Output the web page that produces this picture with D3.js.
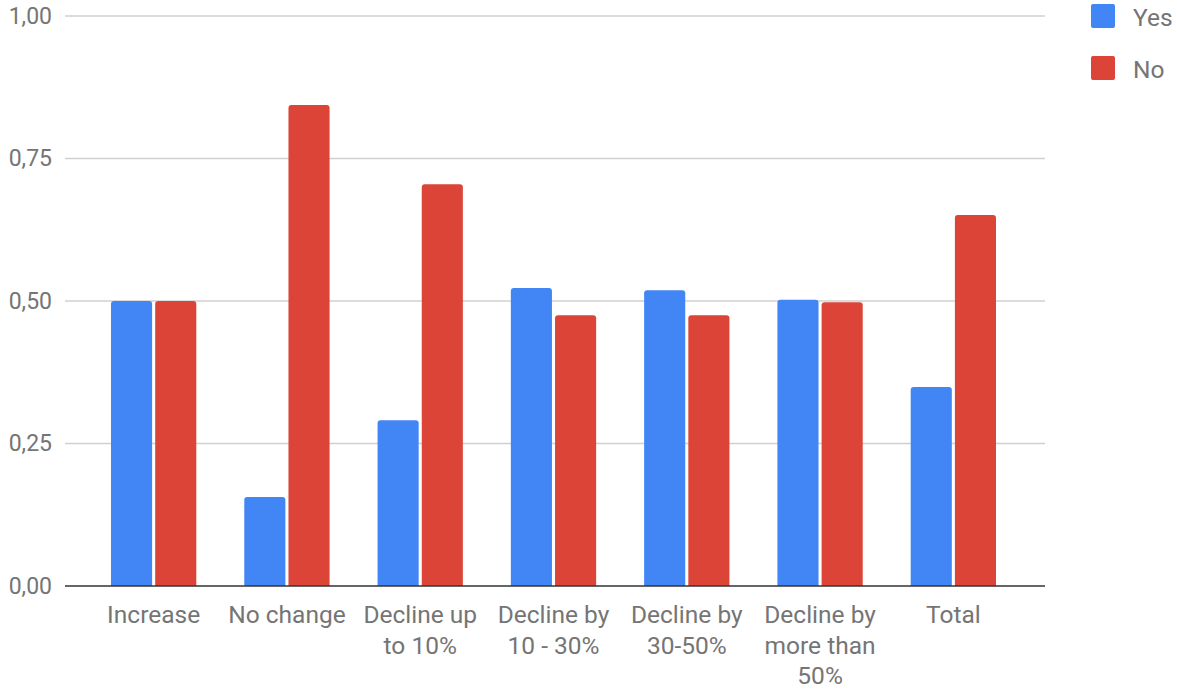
<!DOCTYPE html>
<html>
<head>
<meta charset="utf-8">
<script src="https://cdn.jsdelivr.net/npm/d3@7"></script>
<style>
  html, body { margin: 0; padding: 0; background: #fff; }
  svg { display: block; font-family: Roboto, "Noto Sans", sans-serif; }
</style>
</head>
<body>
<svg id="chart" width="1177" height="693"></svg>
<script>
const categories = ["Increase", "No change", "Decline up to 10%", "Decline by 10 - 30%", "Decline by 30-50%", "Decline by more than 50%", "Total"];
const seriesNames = ["Yes", "No"];
const yesValues = [0.50, 0.156, 0.291, 0.523, 0.519, 0.502, 0.349];
const noValues  = [0.50, 0.844, 0.705, 0.475, 0.475, 0.498, 0.651];
const yTicks = [0, 0.25, 0.5, 0.75, 1.0];
const colors = ["#4285F4", "#DB4437"];

const svg = d3.select("#chart");
const plotLeft = 65, plotRight = 1045, plotTop = 16, plotBottom = 586;

const y = d3.scaleLinear().domain([0, 1]).range([plotBottom, plotTop]);
const x0 = d3.scaleBand().domain(categories).range([87, 1020]).paddingInner(0.36).paddingOuter(0.18);
const x1 = d3.scaleBand().domain(seriesNames).range([0, x0.bandwidth()]).paddingInner(0.07);
const color = d3.scaleOrdinal().domain(seriesNames).range(colors);

const fmt = v => d3.format(".2f")(v).replace(".", ",");

// gridlines
svg.append("g").selectAll("line").data(yTicks.filter(t => t > 0)).join("line")
  .attr("x1", plotLeft).attr("x2", plotRight)
  .attr("y1", d => y(d)).attr("y2", d => y(d))
  .attr("stroke", "#d0d0d0").attr("stroke-width", 1.5);

// y axis labels
const yAxis = d3.axisLeft(y).tickValues(yTicks).tickFormat(fmt).tickSize(0).tickPadding(0);
const yg = svg.append("g").attr("transform", `translate(52,0)`).call(yAxis);
yg.select(".domain").remove();
yg.selectAll("text").attr("font-size", 23).attr("fill", "#757575")
  .attr("font-family", "Roboto, sans-serif");

// bars
const data = categories.map((c, i) => ({ cat: c, vals: [yesValues[i], noValues[i]] }));
function topRounded(x, yTop, w, h, r) {
  r = Math.min(r, h, w / 2);
  return `M${x},${yTop + h}V${yTop + r}Q${x},${yTop} ${x + r},${yTop}H${x + w - r}Q${x + w},${yTop} ${x + w},${yTop + r}V${yTop + h}Z`;
}
const groups = svg.append("g").selectAll("g").data(data).join("g")
  .attr("transform", d => `translate(${x0(d.cat)},0)`);
groups.selectAll("path").data(d => seriesNames.map((s, i) => ({ s, v: d.vals[i] }))).join("path")
  .attr("d", d => topRounded(x1(d.s), y(d.v), x1.bandwidth(), y(0) - y(d.v), 3))
  .attr("fill", d => color(d.s));

// x axis baseline
svg.append("line").attr("x1", plotLeft).attr("x2", plotRight)
  .attr("y1", plotBottom).attr("y2", plotBottom)
  .attr("stroke", "#333").attr("stroke-width", 1.5);

// x axis labels
const xAxis = d3.axisBottom(x0).tickSize(0).tickPadding(0);
const xg = svg.append("g").attr("transform", `translate(0,${plotBottom})`).call(xAxis);
xg.select(".domain").remove();
xg.selectAll("text").attr("font-size", 24.5).attr("fill", "#757575")
  .attr("font-family", "Roboto, sans-serif")
  .attr("dy", null).attr("y", 0)
  .each(function(d) {
    const t = d3.select(this);
    const words = d.split(" ");
    const lines = [];
    let line = [];
    t.text(null);
    const tmp = t.append("tspan");
    words.forEach(w => {
      const test = line.concat([w]).join(" ");
      tmp.text(test);
      if (tmp.node().getComputedTextLength() > 135 && line.length) {
        lines.push(line.join(" "));
        line = [w];
      } else {
        line.push(w);
      }
    });
    lines.push(line.join(" "));
    tmp.remove();
    lines.forEach((l, i) => {
      t.append("tspan").attr("x", 0).attr("y", 37 + i * 30.5).text(l);
    });
  });

// legend
const legend = svg.append("g");
seriesNames.forEach((s, i) => {
  const gy = 4 + i * 52;
  legend.append("rect").attr("x", 1091).attr("y", gy).attr("width", 24).attr("height", 24)
    .attr("rx", 2).attr("fill", colors[i]);
  legend.append("text").attr("x", 1133).attr("y", gy + 13).attr("dy", "0.35em")
    .attr("font-size", 24.5).attr("fill", "#757575").text(s);
});
</script>
</body>
</html>
